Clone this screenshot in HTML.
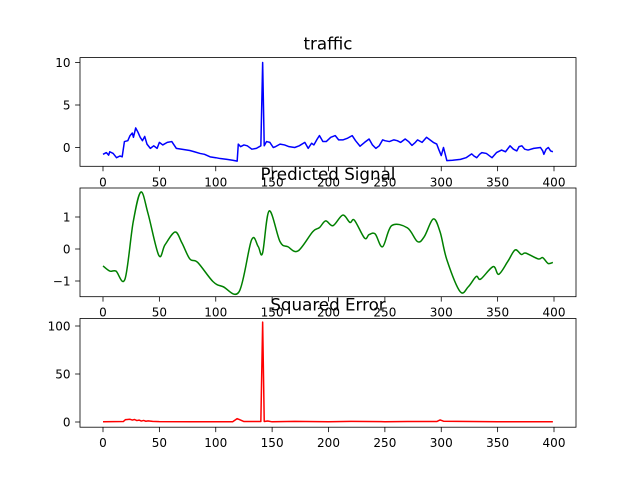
<!DOCTYPE html>
<html><head><meta charset="utf-8"><style>
body{margin:0;background:#fff}
svg{display:block;font-family:"DejaVu Sans","Liberation Sans",sans-serif}
</style></head><body>
<svg id="fig" width="640" height="480" viewBox="0 0 640 480"></svg>
<script>
const xTicks=[0,50,100,150,200,250,300,350,400];
const trafficX=[0,3,5,6,9,12,15,17,19,22,24,26,27,29,31,33,35,37,39,42,45,48,50,53,57,61,65,70,77,81,86,90,95,100,104,110,115,119,120,122,125,128,132,136,140,141.6,143,145,148,151,153,157,161,165,170,174,179,182,185,187,190,192,195,198,202,206,209,213,217,221,224,228,232,236,239,242,245,248,250,254,258,261,264,268,271,274,277,279,283,287,290,293,296,298,300,302,305,310,317,322,327,329,331.5,334,336,340,345,349,353.5,357,361,364,367,369,371.5,374,377,382,388,390,391,393,395,397,399];
const trafficY=[-0.8,-0.6,-0.9,-0.5,-0.7,-1.2,-1.0,-1.1,0.7,0.8,1.4,1.7,1.2,2.3,1.8,1.2,0.8,1.3,0.4,-0.1,0.2,-0.1,0.6,0.3,0.6,0.7,-0.1,-0.2,-0.35,-0.5,-0.7,-0.8,-1.1,-1.2,-1.3,-1.4,-1.5,-1.6,0.4,0.1,0.3,0.2,-0.2,-0.1,0.2,10.0,0.2,0.7,0.6,0.0,0.1,0.4,0.3,0.1,0.0,0.2,0.6,-0.1,0.5,0.3,1.0,1.4,0.7,0.7,1.2,1.4,0.9,0.9,1.1,1.4,0.8,0.15,0.6,1.0,0.3,-0.1,0.2,0.9,0.8,0.7,0.9,0.8,0.6,1.0,0.7,0.25,0.6,0.9,0.6,1.2,0.9,0.6,0.4,-0.3,-0.95,0,-1.55,-1.5,-1.4,-1.2,-0.75,-1.0,-1.2,-0.8,-0.6,-0.7,-1.2,-0.6,-0.3,-0.5,0.2,-0.2,-0.4,0.1,0.2,-0.2,-0.3,-0.1,0,-0.4,-0.8,-0.2,0,-0.4,-0.5];
const predX=[0,6,11.5,19.5,26.8,33.6,40,49.5,55,64,70,77,84,97.6,106.6,120.8,131.7,137.6,141.5,147.4,157,164,173,186,192,197.5,204,212.6,219,223,232,236,241.4,248,256,270,279,285,293,299,305,316.7,324,331,335,346,351,359,365.5,371,375,386,390,394.7,399];
const predY=[-0.53,-0.69,-0.69,-0.94,0.85,1.78,1.1,-0.2,0.13,0.53,0.19,-0.31,-0.42,-1.02,-1.18,-1.33,0.28,0.08,-0.13,1.19,0.23,0.07,-0.06,0.54,0.67,0.88,0.73,1.06,0.83,0.9,0.34,0.45,0.47,0.07,0.73,0.66,0.23,0.39,0.94,0.53,-0.34,-1.33,-1.18,-0.86,-0.94,-0.55,-0.79,-0.39,-0.03,-0.17,-0.13,-0.31,-0.27,-0.45,-0.42];
const errX=[0,18,20,24,26,28,30,32,34,36,38,40,44,50,80,115,119,121,125,140,141.6,143,146,150,170,200,220,250,270,296,299,302,350,399];
const errY=[0.3,0.5,2.5,2.8,2.0,2.6,1.5,2.0,1.0,1.6,0.8,1.2,0.6,0.4,0.2,0.3,3.5,2.5,0.5,0.5,104,0.5,1.0,0.2,0.6,0.3,0.6,0.3,0.5,0.5,2.2,0.8,0.3,0.3];
const yTicks1=[0,5,10], yTicks2=[-1,0,1], yTicks3=[0,50,100];

const NS="http://www.w3.org/2000/svg";
const svg=document.getElementById('fig');
function el(t,a,p){const e=document.createElementNS(NS,t);for(const k in a)e.setAttribute(k,a[k]);(p||svg).appendChild(e);return e;}
const L=80,R=576;
const xs=v=>103+(v)*451/400;
const axes=[
 {top:57.6,bot:166.3,title:"traffic",ys:v=>147.5-8.5*v,ticks:yTicks1,x:trafficX,y:trafficY,c:"#0000ff",smooth:false,name:"traffic"},
 {top:188,bot:296.7,title:"Predicted Signal",ys:v=>249-32*v,ticks:yTicks2,x:predX,y:predY,c:"#008000",smooth:true,name:"predicted-signal"},
 {top:318.5,bot:427.2,title:"Squared Error",ys:v=>422-0.96*v,ticks:yTicks3,x:errX,y:errY,c:"#ff0000",smooth:false,name:"squared-error"}
];
axes.forEach(a=>{
 const g=el('g',{});
 
 
 const cid='c'+a.name;
 const cp=el('clipPath',{id:cid},g);el('rect',{x:L,y:a.top,width:R-L,height:a.bot-a.top},cp);
 let d="";
 const pts=a.x.map((x,i)=>[xs(x),a.ys(a.y[i])]);
 if(!a.smooth){pts.forEach((p,i)=>d+=(i?"L":"M")+p[0].toFixed(2)+","+p[1].toFixed(2));}
 else{
  d="M"+pts[0].join(",");
  for(let i=0;i<pts.length-1;i++){
   const p0=pts[Math.max(0,i-1)],p1=pts[i],p2=pts[i+1],p3=pts[Math.min(pts.length-1,i+2)];
   const c1=[p1[0]+(p2[0]-p0[0])/6,p1[1]+(p2[1]-p0[1])/6],c2=[p2[0]-(p3[0]-p1[0])/6,p2[1]-(p3[1]-p1[1])/6];
   d+="C"+c1.map(v=>v.toFixed(2))+" "+c2.map(v=>v.toFixed(2))+" "+p2.map(v=>v.toFixed(2));
  }
 }
 const line=el('path',{d:d,fill:"none",stroke:a.c,"stroke-width":1.5,"stroke-linejoin":"round","clip-path":"url(#"+cid+")"},g);
 
 
 const fr=el('rect',{x:L,y:a.top,width:R-L,height:a.bot-a.top,fill:"none",stroke:"#000","stroke-width":0.8},g);
 
 
 xTicks.forEach(t=>{
  const x=xs(t);
  el('line',{x1:x,x2:x,y1:a.bot,y2:a.bot+4.9,stroke:"#000","stroke-width":0.8},g);
  const tx=el('text',{x:x,y:a.bot+20,"font-size":12,"text-anchor":"middle"},g);tx.textContent=t;
  
  
 });
 a.ticks.forEach(t=>{
  const y=a.ys(t);
  el('line',{x1:L-4.9,x2:L,y1:y,y2:y,stroke:"#000","stroke-width":0.8},g);
  const tx=el('text',{x:L-9.5,y:y+4.3,"font-size":12,"text-anchor":"end"},g);tx.textContent=(t<0?"\u2212"+(-t):t);
  
  
 });
 const tt=el('text',{x:(L+R)/2,y:a.top-8,"font-size":16.7,"text-anchor":"middle"},g);tt.textContent=a.title;
 
 
});
</script>
</body></html>
